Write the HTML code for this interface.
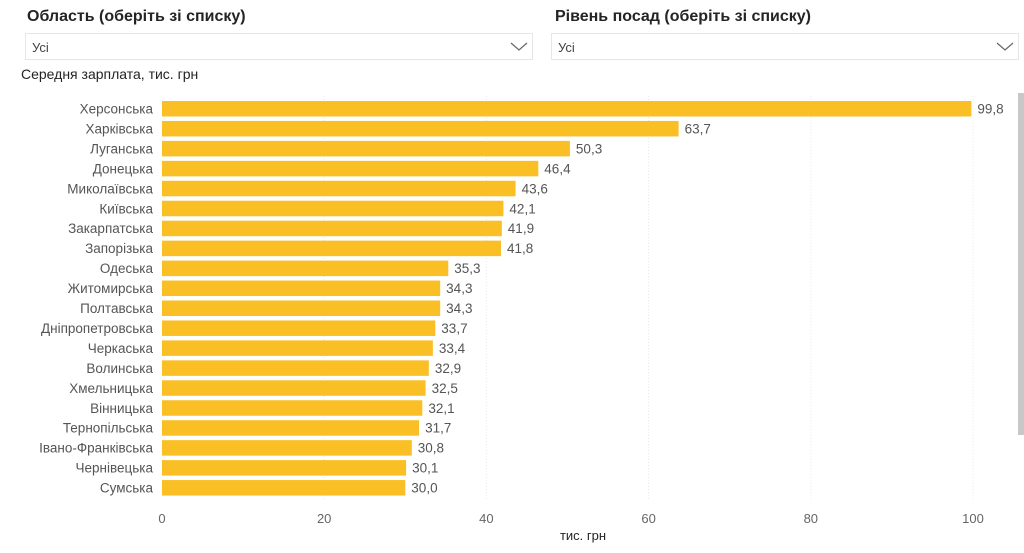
<!DOCTYPE html>
<html><head><meta charset="utf-8"><style>
body{margin:0;width:1024px;height:553px;background:#fff;font-family:"Liberation Sans",sans-serif;position:relative;overflow:hidden}
.t{position:absolute;font-weight:bold;font-size:16px;color:#252423}
.dd{position:absolute;border:1px solid #e6e6e6;height:27px;box-sizing:border-box;font-size:13px;color:#444}
.dd span{position:absolute;left:6px;top:6px}
.dd svg{position:absolute;right:4px;top:8px}
</style></head><body>
<div class="t" style="left:27px;top:8px">Область (оберіть зі списку)</div>
<div class="t" style="left:555px;top:8px">Рівень посад (оберіть зі списку)</div>
<div class="dd" style="left:25px;top:33px;width:508px"><span>Усі</span><svg width="18" height="10"><path d="M1 1 L9 8 L17 1" fill="none" stroke="#666" stroke-width="1.2"/></svg></div>
<div class="dd" style="left:551px;top:33px;width:468px"><span>Усі</span><svg width="18" height="10"><path d="M1 1 L9 8 L17 1" fill="none" stroke="#666" stroke-width="1.2"/></svg></div>
<div style="position:absolute;left:21px;top:66px;font-size:14px;color:#252423">Середня зарплата, тис. грн</div>
<div style="position:absolute;left:1018px;top:93px;width:6px;height:342px;background:#c8c8c8"></div>
<svg width="1024" height="553" style="position:absolute;left:0;top:0" font-family="Liberation Sans, sans-serif">
<g stroke="#e8e8e8" stroke-dasharray="1,2">
<line x1="324.2" y1="96" x2="324.2" y2="500"/><line x1="486.4" y1="96" x2="486.4" y2="500"/><line x1="648.6" y1="96" x2="648.6" y2="500"/><line x1="810.8" y1="96" x2="810.8" y2="500"/><line x1="973" y1="96" x2="973" y2="500"/>
</g>
<g id="bars"></g>
<g font-size="13" fill="#666" text-anchor="middle">
<text x="162" y="523">0</text><text x="324.2" y="523">20</text><text x="486.4" y="523">40</text><text x="648.6" y="523">60</text><text x="810.8" y="523">80</text><text x="973" y="523">100</text>
</g>
<text x="583" y="540" font-size="13" fill="#252423" text-anchor="middle">тис. грн</text>
</svg>
<script>
var d=[["Херсонська",99.8],["Харківська",63.7],["Луганська",50.3],["Донецька",46.4],["Миколаївська",43.6],["Київська",42.1],["Закарпатська",41.9],["Запорізька",41.8],["Одеська",35.3],["Житомирська",34.3],["Полтавська",34.3],["Дніпропетровська",33.7],["Черкаська",33.4],["Волинська",32.9],["Хмельницька",32.5],["Вінницька",32.1],["Тернопільська",31.7],["Івано-Франківська",30.8],["Чернівецька",30.1],["Сумська",30.0]];
var s="";d.forEach(function(r,i){var y=101+i*19.95,w=r[1]*8.11;
s+='<rect x="162" y="'+y+'" width="'+w+'" height="15.5" fill="#f9bf25"/>';
s+='<text x="153" y="'+(y+12.5)+'" font-size="13.5" fill="#555" text-anchor="end">'+r[0]+'</text>';
s+='<text x="'+(162+w+6)+'" y="'+(y+12.5)+'" font-size="13.5" fill="#555">'+r[1].toFixed(1).replace(".",",")+'</text>';});
document.getElementById("bars").innerHTML=s;
</script>
</body></html>
